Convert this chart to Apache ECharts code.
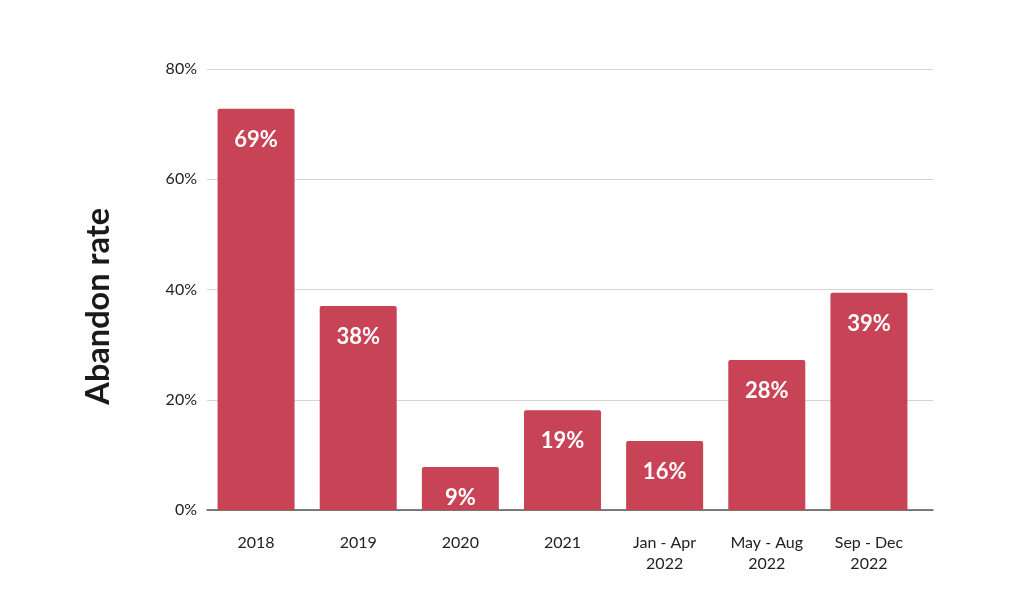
<!DOCTYPE html>
<html>
<head>
<meta charset="utf-8">
<script src="https://cdn.jsdelivr.net/npm/echarts@6/dist/echarts.min.js"></script>
<style>
  html, body { margin: 0; padding: 0; background: #fff; }
  #chart { width: 1024px; height: 614px; }
</style>
</head>
<body>
<div id="chart"></div>
<script>
// periods on the x axis
var categories = ['2018', '2019', '2020', '2021', 'Jan - Apr\n2022', 'May - Aug\n2022', 'Sep - Dec\n2022'];
// bar heights as drawn (percent)
var barValues = [72.8, 37.0, 7.8, 18.1, 12.5, 27.2, 39.4];
// labels printed on the bars
var barLabels = ['69%', '38%', '9%', '19%', '16%', '28%', '39%'];

var chart = echarts.init(document.getElementById('chart'));

var option = {
    animation: false,
    textStyle: { fontFamily: 'Lato' },
    // grid 0 carries the gridlines and base line, grid 1 the bars (a bit narrower)
    grid: [
        { left: 207, right: 91, top: 69, bottom: 104 },
        { left: 205, right: 104, top: 69, bottom: 104 }
    ],
    xAxis: [{
        type: 'category',
        gridIndex: 0,
        data: categories,
        axisLine: { lineStyle: { color: '#555', width: 1.5 } },
        axisTick: { show: false },
        axisLabel: { show: false }
    }, {
        type: 'category',
        gridIndex: 1,
        data: categories,
        axisLine: { show: false },
        axisTick: { show: false },
        axisLabel: { color: '#222', fontSize: 16, lineHeight: 21, margin: 22 }
    }],
    yAxis: [{
        type: 'value',
        gridIndex: 0,
        min: 0,
        max: 80,
        interval: 20,
        axisLine: { show: false },
        axisTick: { show: false },
        splitLine: { lineStyle: { color: '#d4d4d4' } },
        axisLabel: { color: '#222', fontSize: 16, margin: 10, formatter: '{value}%' }
    }, {
        type: 'value',
        gridIndex: 1,
        min: 0,
        max: 80,
        interval: 20,
        show: false
    }],
    graphic: [{
        type: 'text',
        left: 82,
        top: 208,
        rotation: Math.PI / 2,
        style: {
            text: 'Abandon rate',
            fontFamily: 'Lato',
            fontSize: 32.5,
            fontWeight: 'bold',
            fill: '#1a1a1a'
        }
    }],
    series: [{
        type: 'bar',
        xAxisIndex: 1,
        yAxisIndex: 1,
        data: barValues,
        barWidth: 77,
        itemStyle: { color: '#c84356', borderRadius: [2, 2, 0, 0] },
        label: {
            show: true,
            position: 'insideTop',
            distance: 20,
            color: '#fff',
            fontSize: 22,
            fontWeight: 'bold',
            formatter: function (p) { return barLabels[p.dataIndex]; }
        }
    }]
};

chart.setOption(option);
</script>
</body>
</html>
